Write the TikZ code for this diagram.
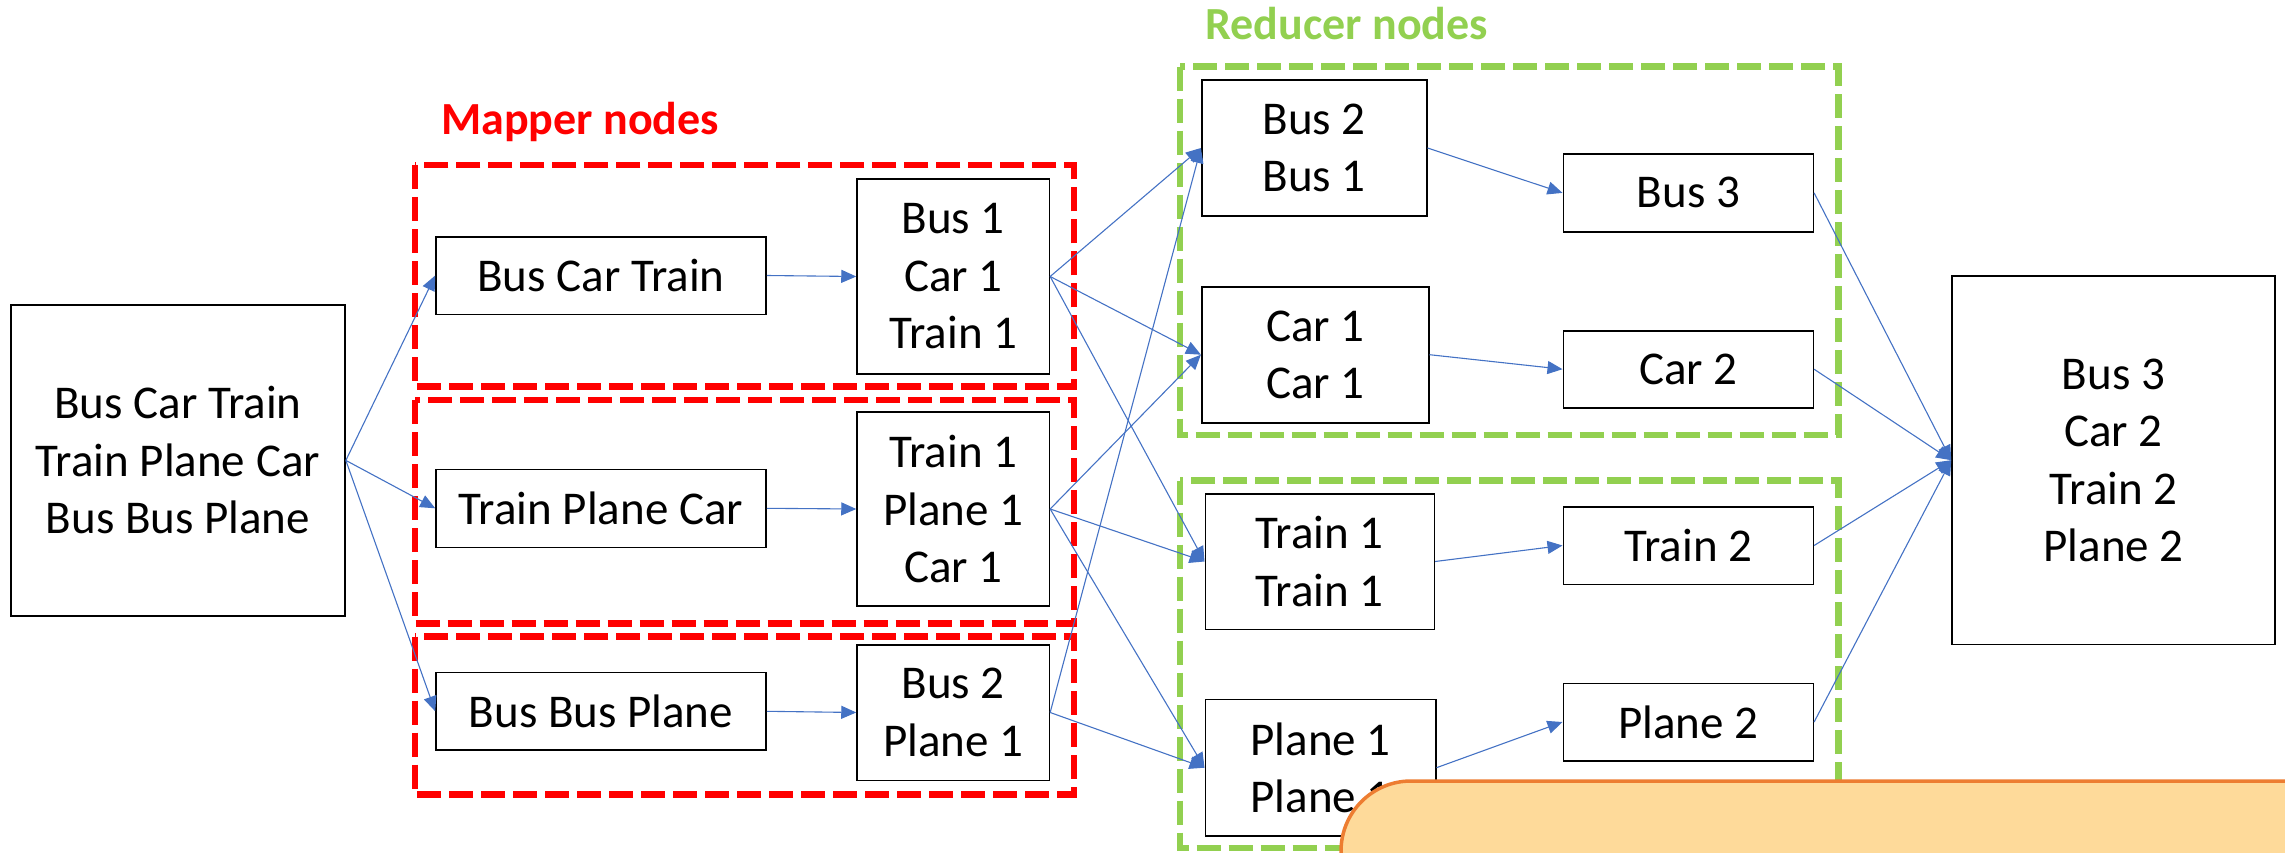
\documentclass[tikz,border=0pt]{standalone}
\usepackage{fontspec}
\setmainfont{Carlito}
\usetikzlibrary{arrows.meta}
\definecolor{flowblue}{HTML}{4472C4}
\definecolor{mapred}{HTML}{FF0000}
\definecolor{redgreen}{HTML}{92D050}
\definecolor{notefill}{RGB}{254,218,154}
\definecolor{noteedge}{HTML}{ED7D31}

\begin{document}
\begin{tikzpicture}[x=1pt,y=-1pt,
  box/.style={draw=black, line width=1.6pt, fill=white, inner sep=0pt,
    align=center, font=\fontsize{47}{57.5}\selectfont},
  conn/.style={draw=flowblue, line width=1.1pt,
    -{Triangle[length=15pt,width=13pt]}},
  mapgroup/.style={draw=mapred, line width=6.5pt, dash pattern=on 24pt off 8pt},
  redgroup/.style={draw=redgreen, line width=6.5pt, dash pattern=on 24pt off 8pt},
  grouplabel/.style={font=\fontsize{46}{55}\selectfont\bfseries, anchor=base}
]
\useasboundingbox (0,0) rectangle (2285,853);

% group frames
\draw[mapgroup] (415,165) rectangle (1074,386.7);
\draw[mapgroup] (415,400) rectangle (1074,623.3);
\draw[mapgroup] (415,636.7) rectangle (1074,794.3);
\draw[redgroup] (1180,66.7) rectangle (1838.3,435);
\draw[redgroup] (1180,480.7) rectangle (1838.3,848);

\node[grouplabel, text=mapred] (maplabel) at (580,135) {Mapper nodes};
\node[grouplabel, text=redgreen] (redlabel) at (1346.7,40) {Reducer nodes};

% input
\node[box, minimum width=334.3pt, minimum height=310.7pt] (in) at (177.9,460.4)
  {Bus Car Train\\Train Plane Car\\Bus Bus Plane};

% mapper inputs
\node[box, minimum width=330pt, minimum height=77.6pt] (bct) at (601,275.5) {Bus Car Train};
\node[box, minimum width=330pt, minimum height=78pt] (tpc) at (601,508.3) {Train Plane Car};
\node[box, minimum width=330pt, minimum height=77.3pt] (bbp) at (601,711.3) {Bus Bus Plane};

% mapper outputs
\node[box, minimum width=192.3pt, minimum height=194.4pt] (bct1) at (953.2,276.5)
  {Bus 1\\Car 1\\Train 1};
\node[box, minimum width=192.3pt, minimum height=194pt] (tpc1) at (953.2,509)
  {Train 1\\Plane 1\\Car 1};
\node[box, minimum width=192.3pt, minimum height=135.6pt] (bbp1) at (953.2,712.5)
  {Bus 2\\Plane 1};

% reducer inputs
\node[box, minimum width=225pt, minimum height=136pt] (r1) at (1314.2,148) {Bus 2\\Bus 1};
\node[box, minimum width=227pt, minimum height=136pt] (r2) at (1315.2,354.7) {Car 1\\Car 1};
\node[box, minimum width=229pt, minimum height=135.6pt] (r3) at (1319.8,561.5) {Train 1\\Train 1};
\node[box, minimum width=230.4pt, minimum height=136.7pt] (r4) at (1320.5,767.7) {Plane 1\\Plane 1};

% reducer outputs
\node[box, minimum width=250pt, minimum height=77.7pt] (s1) at (1688.3,192.9) {Bus 3};
\node[box, minimum width=250pt, minimum height=77pt] (s2) at (1688.3,369.2) {Car 2};
\node[box, minimum width=250pt, minimum height=77.6pt] (s3) at (1688.3,545.5) {Train 2};
\node[box, minimum width=250pt, minimum height=77.4pt] (s4) at (1688.3,722) {Plane 2};

% result
\node[box, minimum width=323pt, minimum height=368.3pt] (out) at (2113.5,460.2)
  {Bus 3\\Car 2\\Train 2\\Plane 2};

% splitting
\draw[conn] (in.east) -- (bct.west);
\draw[conn] (in.east) -- (tpc.west);
\draw[conn] (in.east) -- (bbp.west);

% mapping
\draw[conn] (bct.east) -- (bct1.west);
\draw[conn] (tpc.east) -- (tpc1.west);
\draw[conn] (bbp.east) -- (bbp1.west);

% shuffling
\draw[conn] (bct1.east) -- (r1.west);
\draw[conn] (bct1.east) -- (r2.west);
\draw[conn] (bct1.east) -- (r3.west);
\draw[conn] (tpc1.east) -- (r2.west);
\draw[conn] (tpc1.east) -- (r3.west);
\draw[conn] (tpc1.east) -- (r4.west);
\draw[conn] (bbp1.east) -- (r1.west);
\draw[conn] (bbp1.east) -- (r4.west);

% reducing
\draw[conn] (r1.east) -- (s1.west);
\draw[conn] (r2.east) -- (s2.west);
\draw[conn] (r3.east) -- (s3.west);
\draw[conn] (r4.east) -- (s4.west);

% merging
\draw[conn] (s1.east) -- (out.west);
\draw[conn] (s2.east) -- (out.west);
\draw[conn] (s3.east) -- (out.west);
\draw[conn] (s4.east) -- (out.west);

% callout panel entering from the lower right
\begin{scope}
  \clip (0,0) rectangle (2285,853);
  \draw[draw=noteedge, fill=notefill, line width=3.5pt, rounded corners=70pt]
    (1341,781) rectangle (2420,1000);
\end{scope}
\end{tikzpicture}
\end{document}
